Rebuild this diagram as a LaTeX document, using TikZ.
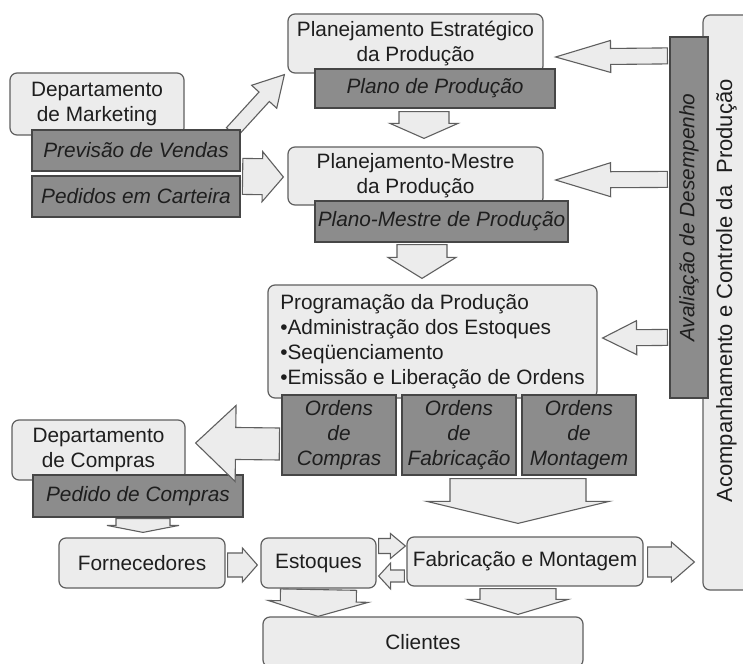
\documentclass[tikz,border=0pt]{standalone}
\usepackage{fontspec}
\setmainfont{Liberation Sans}
\usetikzlibrary{calc}

\definecolor{boxfill}{RGB}{236,236,236}
\definecolor{boxline}{RGB}{95,95,95}
\definecolor{darkfill}{RGB}{140,140,140}
\definecolor{darkline}{RGB}{70,70,70}
\definecolor{inkgray}{RGB}{30,30,30}

\newcommand{\boxfont}{\fontsize{20.8}{24.8}\selectfont}
\newcommand{\sidefont}{\fontsize{22}{26}\selectfont}

% block arrow: start, end, shaft half width, head half width, head length
\newcommand{\fatarrow}[5]{%
  \path (#1) coordinate (fa-s) (#2) coordinate (fa-e);
  \path ($(fa-e)!#5pt!(fa-s)$) coordinate (fa-h);
  \draw[blockarrow] ($(fa-s)!#3pt!90:(fa-e)$) -- ($(fa-h)!#3pt!90:(fa-e)$)
    -- ($(fa-h)!#4pt!90:(fa-e)$) -- (fa-e) -- ($(fa-h)!#4pt!-90:(fa-e)$)
    -- ($(fa-h)!#3pt!-90:(fa-e)$) -- ($(fa-s)!#3pt!-90:(fa-e)$) -- cycle;}

\begin{document}
\begin{tikzpicture}[x=1pt,y=-1pt,
    lightbox/.style={draw=boxline, fill=boxfill, rounded corners=7pt, line width=1.2pt,
      inner sep=0pt, align=center, text=inkgray, font=\boxfont},
    darkbox/.style={draw=darkline, fill=darkfill, line width=1.2pt,
      inner sep=0pt, align=center, text=inkgray, font=\boxfont\itshape},
    blockarrow/.style={draw=boxline, fill=boxfill, line width=1.1pt, line join=miter}]
  \clip (0,0) rectangle (743,663);
  \fill[white] (0,0) rectangle (743,663);

  % control column on the right
  \node[lightbox, minimum width=50pt, minimum height=575pt] (acomp) at (728,302.5) {};
  \node[rotate=90, anchor=west, inner sep=0pt, text=inkgray, font=\sidefont] (acomptext)
    at ($(acomp.south west)+(24,-88)$) {Acompanhamento e Controle da\ \ Produção};
  \node[darkbox, rotate=90, minimum width=361pt, minimum height=38pt]
    (aval) at (689,217.5) {Avaliação de Desempenho};

  % planning boxes
  \node[lightbox, minimum width=255pt, minimum height=59pt] (estrat) at (415.5,43.5)
    {Planejamento Estratégico\\da Produção};
  \node[lightbox, minimum width=174pt, minimum height=62pt] (mkt) at (97,104)
    {Departamento\\de Marketing};
  \node[lightbox, minimum width=255pt, minimum height=58pt] (mestre) at (415.5,176)
    {Planejamento-Mestre\\da Produção};
  \node[lightbox, minimum width=329pt, minimum height=113pt, align=left] (prog) at (432.5,341.5)
    {Programação da Produção\\•Administração dos Estoques\\•Seqüenciamento\\•Emissão e Liberação de Ordens};
  \node[lightbox, minimum width=173pt, minimum height=60pt] (dcomp) at (98.5,450)
    {Departamento\\de Compras};
  \node[lightbox, minimum width=166pt, minimum height=50pt] (forn) at (142,563) {Fornecedores};
  \node[lightbox, minimum width=115pt, minimum height=50pt] (estoq) at (318.5,563) {Estoques};
  \node[lightbox, minimum width=236pt, minimum height=49pt] (fab) at (525,561.5)
    {Fabricação e Montagem};
  \node[lightbox, minimum width=320pt, minimum height=50pt] (cli) at (423,642) {Clientes};

  \node[darkbox, minimum width=208pt, minimum height=41pt] (prev) at (136,150.5) {};
  \fatarrow{$(prev.north east)+(-9,3)$}{$(estrat.south west)+(-3,1)$}{7}{17}{30}

  % documents
  \node[darkbox, minimum width=208pt, minimum height=41pt] at (prev) {Previsão de Vendas};
  \node[darkbox, minimum width=208pt, minimum height=41pt] (pedcart) at (136,196.5)
    {Pedidos em Carteira};
  \node[darkbox, minimum width=240pt, minimum height=39pt] (plano) at (435,88.5)
    {Plano de Produção};
  \node[darkbox, minimum width=253pt, minimum height=41pt] (planomestre) at (441.5,221.5)
    {Plano-Mestre de Produção};
  \node[darkbox, minimum width=114pt, minimum height=80pt] (ocomp) at (339,435)
    {Ordens\\de\\Compras};
  \node[darkbox, minimum width=114pt, minimum height=80pt] (ofab) at (459,435)
    {Ordens\\de\\Fabricação};
  \node[darkbox, minimum width=114pt, minimum height=80pt] (omont) at (579,435)
    {Ordens\\de\\Montagem};
  \node[darkbox, minimum width=210pt, minimum height=42pt] (pedcomp) at (138,496)
    {Pedido de Compras};

  % flows
  \fatarrow{$(pedcart.north east)+(2,1)$}{$(mestre.west)+(-4,1)$}{18}{25}{21}
  \fatarrow{$(plano.south)+(-11,3)$}{$(mestre.north)+(8.5,-8)$}{25}{34}{15}
  \fatarrow{$(planomestre.south)+(-19.5,2)$}{$(prog.north)+(-10.5,-6)$}{25}{34}{21}
  \fatarrow{$(aval.north east)+(-2,19.5)$}{$(estrat.east)+(12,13.5)$}{8}{16}{55}
  \fatarrow{$(aval.north east)+(-2,143)$}{$(mestre.east)+(12,4)$}{8}{17}{55}
  \fatarrow{$(aval.north east)+(-2,301)$}{$(prog.east)+(5,-3.5)$}{8}{17}{34}
  \fatarrow{$(ocomp.west)+(-2,9)$}{$(dcomp.east)+(10,-7)$}{16}{38}{40}
  \fatarrow{$(pedcomp.south)+(5,1)$}{$(forn.north)+(1,-5)$}{27}{36}{7}
  \fatarrow{$(forn.east)+(2,2)$}{$(estoq.west)+(-3,2)$}{12}{17}{15}
  \fatarrow{$(estoq.east)+(2,-17)$}{$(fab.west)+(-1,-15.5)$}{7.5}{12.5}{15}
  \fatarrow{$(fab.west)+(-2,14.5)$}{$(estoq.east)+(2,13)$}{6}{13}{12}
  \fatarrow{$(ofab.south)+(59,3)$}{$(fab.north)+(-7,-13)$}{68}{91}{22}
  \fatarrow{$(fab.east)+(4,0.5)$}{$(acomp.west)+(-8,259.5)$}{15}{20}{23}
  \fatarrow{$(estoq.south)+(0,1)$}{$(cli.north)+(-105,0)$}{38}{50}{15}
  \fatarrow{$(fab.south)+(-7,2)$}{$(cli.north)+(95,-2)$}{38}{50}{15}
\end{tikzpicture}
\end{document}
